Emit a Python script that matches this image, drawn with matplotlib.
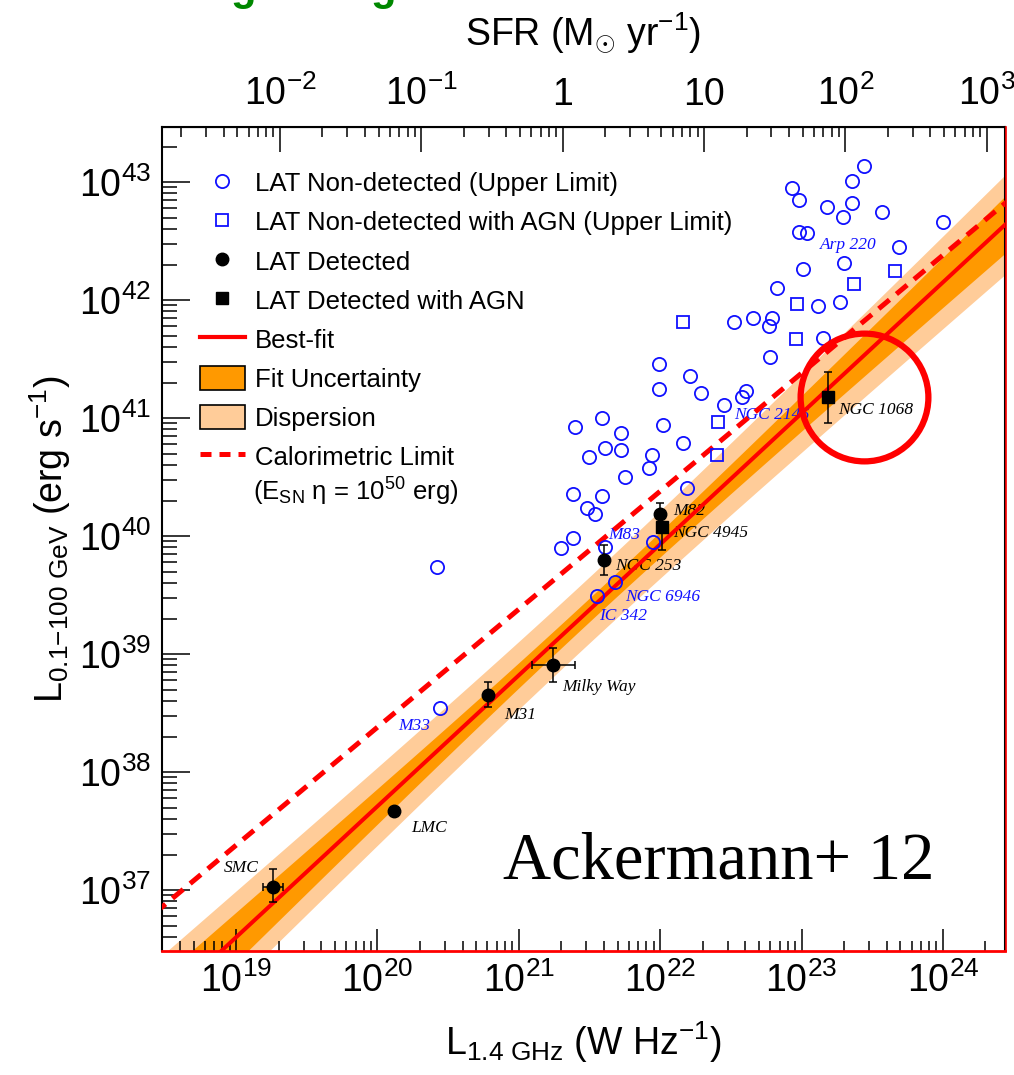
import numpy as np
import matplotlib.pyplot as plt
from matplotlib.lines import Line2D
from matplotlib.patches import Patch
from matplotlib.ticker import LogLocator, FuncFormatter, NullFormatter

plt.rcParams['font.family'] = ['Liberation Sans', 'DejaVu Sans']
plt.rcParams['mathtext.fontset'] = 'custom'
plt.rcParams['mathtext.rm'] = 'Liberation Sans'
plt.rcParams['mathtext.it'] = 'Liberation Sans:italic'
plt.rcParams['mathtext.bf'] = 'Liberation Sans:bold'
plt.rcParams['mathtext.default'] = 'rm'

# all values are log10: L_1.4GHz in W/Hz, L_0.1-100GeV in erg/s
# LAT non-detected (upper limits)
nd_lx = [23.44, 23.36, 22.93, 22.98, 23.18, 23.36, 23.29, 23.57, 24.00, 22.98,
         23.04, 23.69, 23.01, 23.30, 22.83, 23.12, 23.27, 22.52, 22.66, 22.79,
         22.77, 23.15, 22.78, 21.99, 22.21, 21.99, 22.29, 22.61, 22.58, 22.45,
         21.59, 22.02, 21.72, 21.61, 21.72, 21.50, 21.94, 21.92, 22.16, 21.75,
         22.19, 21.59, 21.40, 21.38, 21.48, 21.54, 21.38, 21.30, 21.61, 21.95,
         21.68, 21.55, 20.42, 20.44]
nd_ly = [43.14, 43.01, 42.95, 42.85, 42.79, 42.82, 42.70, 42.75, 42.66, 42.58,
         42.57, 42.45, 42.26, 42.31, 42.10, 41.95, 41.98, 41.81, 41.85, 41.85,
         41.78, 41.68, 41.52, 41.46, 41.36, 41.25, 41.21, 41.23, 41.18, 41.11,
         41.00, 40.94, 40.87, 40.75, 40.73, 40.67, 40.69, 40.58, 40.79, 40.50,
         40.41, 40.34, 40.92, 40.36, 40.24, 40.19, 39.98, 39.90, 39.91, 39.95,
         39.61, 39.49, 39.74, 38.54]
# LAT non-detected with AGN
agn_lx = [22.16, 23.37, 23.66, 22.97, 22.96, 22.41, 22.40]
agn_ly = [41.81, 42.14, 42.25, 41.97, 41.67, 40.97, 40.69]
# LAT detected
det_lx = [19.26, 20.12, 20.78, 21.24, 21.60, 22.00]
det_ly = [37.03, 37.67, 38.65, 38.91, 39.80, 40.19]
det_ylo = [0.13, 0.0, 0.10, 0.15, 0.13, 0.11]
det_yhi = [0.15, 0.0, 0.11, 0.14, 0.12, 0.09]
det_xlo = [0.07, 0.0, 0.0, 0.15, 0.0, 0.0]
det_xhi = [0.07, 0.0, 0.0, 0.16, 0.0, 0.0]
# LAT detected with AGN (NGC 4945, NGC 1068)
dagn_lx = [22.01, 23.19]
dagn_ly = [40.08, 41.18]
dagn_ylo = [0.20, 0.22]
dagn_yhi = [0.10, 0.21]

# galaxy names
black_names = ['SMC', 'LMC', 'M31', 'Milky Way', 'NGC 253', 'M82', 'NGC 4945', 'NGC 1068']
black_tx = [18.91, 20.24, 20.90, 21.31, 21.68, 22.09, 22.09, 23.26]
black_ty = [37.19, 37.53, 38.48, 38.72, 39.75, 40.21, 40.03, 41.07]
blue_names = ['M33', 'IC 342', 'NGC 6946', 'M83', 'NGC 2146', 'Arp 220']
blue_tx = [20.15, 21.57, 21.75, 21.63, 22.52, 23.13]
blue_ty = [38.39, 39.32, 39.48, 40.01, 41.03, 42.47]

# best fit: log L = beta + alpha log(L1.4/1e21)
alpha, beta = 1.11, 38.82
calor_offset = 18.38  # calorimetric limit, log Lg = log L1.4 + offset
sfr_offset = 21.31    # SFR = L1.4 / 10^21.31

BLUE = '#1010ff'
DARK = '#ff9900'
LIGHT = '#ffcc99'

fig = plt.figure(figsize=(10.14, 10.75), dpi=100)
ax = fig.add_axes([0.1598, 0.1153, 0.8314, 0.7665])
ax.set_xscale('log')
ax.set_yscale('log')
ax.set_xlim(10**18.476, 10**24.44)
ax.set_ylim(10**36.483, 10**43.466)

lx = np.linspace(18.3, 24.6, 300)
fit = beta + alpha*(lx - 21)
unc = np.sqrt(0.1**2 + (0.075*(lx - 21.5))**2)
disp = unc + 0.18
ax.fill_between(10**lx, 10**(fit - disp), 10**(fit + disp), color=LIGHT, lw=0, zorder=1)
ax.fill_between(10**lx, 10**(fit - unc), 10**(fit + unc), color=DARK, lw=0, zorder=1.5)
ax.plot(10**lx, 10**fit, color='red', lw=2.9, zorder=3)
ax.plot(10**lx, 10**(lx + calor_offset), color='red', lw=3.6, dashes=(2.8, 1.8), zorder=3)

ax.plot(10**np.array(nd_lx), 10**np.array(nd_ly), 'o', ls='none', mfc='none', mec=BLUE,
        ms=9.5, mew=1.3, zorder=5)
ax.plot(10**np.array(agn_lx), 10**np.array(agn_ly), 's', ls='none', mfc='none', mec=BLUE,
        ms=9, mew=1.3, zorder=5)

dx = np.array(det_lx); dy = np.array(det_ly)
yerr = [10**dy - 10**(dy - np.array(det_ylo)), 10**(dy + np.array(det_yhi)) - 10**dy]
xerr = [10**dx - 10**(dx - np.array(det_xlo)), 10**(dx + np.array(det_xhi)) - 10**dx]
ax.errorbar(10**dx, 10**dy, xerr=xerr, yerr=yerr, fmt='o', color='black', ms=9,
            elinewidth=1.1, capsize=3, capthick=1.1, zorder=6)
ax2x = np.array(dagn_lx); ax2y = np.array(dagn_ly)
yerr2 = [10**ax2y - 10**(ax2y - np.array(dagn_ylo)), 10**(ax2y + np.array(dagn_yhi)) - 10**ax2y]
ax.errorbar(10**ax2x, 10**ax2y, yerr=yerr2, fmt='s', color='black', ms=8.5,
            elinewidth=1.1, capsize=3, capthick=1.1, zorder=6)

for name, tx, ty in zip(black_names, black_tx, black_ty):
    ax.text(10**tx, 10**ty, name, color='black', fontsize=12.5, style='italic',
            family='Liberation Serif', va='center', ha='left', zorder=2.5)
for name, tx, ty in zip(blue_names, blue_tx, blue_ty):
    ax.text(10**tx, 10**ty, name, color=BLUE, fontsize=12.5, style='italic',
            family='Liberation Serif', va='center', ha='left', zorder=2.5)

# red circle around NGC 1068
ax.plot(10**23.44, 10**41.18, 'o', ms=92, mfc='none', mec='red', mew=4.5, zorder=7)

ax.text(0.4045, 0.0886, 'Ackermann+ 12', transform=ax.transAxes, fontsize=48,
        family='Liberation Serif', va='baseline', ha='left')

# axes styling
for s in ['left', 'top', 'right']:
    ax.spines[s].set_linewidth(1.5)
ax.spines['bottom'].set_color('red')
ax.spines['bottom'].set_linewidth(2)
fig.add_artist(Line2D([0.9925, 0.9925], [0.1153, 0.8819], color='red', lw=1.2))

ax.xaxis.set_major_locator(LogLocator(base=10, numticks=20))
ax.xaxis.set_minor_locator(LogLocator(base=10, subs=np.arange(2, 10), numticks=100))
ax.yaxis.set_major_locator(LogLocator(base=10, numticks=20))
ax.yaxis.set_minor_locator(LogLocator(base=10, subs=np.arange(2, 10), numticks=100))
ax.xaxis.set_major_formatter(FuncFormatter(lambda v, p: r'$10^{%d}$' % round(np.log10(v))))
ax.yaxis.set_major_formatter(FuncFormatter(lambda v, p: r'$10^{%d}$' % round(np.log10(v))))
ax.xaxis.set_minor_formatter(NullFormatter())
ax.yaxis.set_minor_formatter(NullFormatter())
ax.tick_params(which='both', direction='in', top=False, right=False, width=1.1, labelsize=27)
ax.tick_params(axis='y', which='major', length=20, pad=8)
ax.tick_params(axis='y', which='minor', length=11)
ax.tick_params(axis='x', which='major', length=16, pad=8)
ax.tick_params(axis='x', which='minor', length=7)

ax.set_xlabel(r'L$_{1.4\ GHz}$ (W Hz$^{-1}$)', fontsize=27, labelpad=14)
ax.set_ylabel(r'L$_{0.1{-}100\ GeV}$ (erg s$^{-1}$)', fontsize=27, labelpad=4)

def sfr_fmt(v, p):
    e = round(np.log10(v))
    if e == 0:
        return '1'
    if e == 1:
        return '10'
    return r'$10^{%d}$' % e

sec = ax.secondary_xaxis('top', functions=(lambda x: x/10**sfr_offset, lambda s: s*10**sfr_offset))
sec.xaxis.set_major_locator(LogLocator(base=10, numticks=20))
sec.xaxis.set_minor_locator(LogLocator(base=10, subs=np.arange(2, 10), numticks=100))
sec.xaxis.set_major_formatter(FuncFormatter(sfr_fmt))
sec.xaxis.set_minor_formatter(NullFormatter())
sec.tick_params(which='both', direction='in', width=1.1, labelsize=27)
sec.tick_params(which='major', length=18, pad=10)
sec.tick_params(which='minor', length=7)
sec.set_xlabel(r'SFR (M$_{\odot}$ yr$^{-1}$)', fontsize=27, labelpad=22)

handles = [
    Line2D([], [], marker='o', ls='none', mfc='none', mec=BLUE, ms=9.5, mew=1.3),
    Line2D([], [], marker='s', ls='none', mfc='none', mec=BLUE, ms=9, mew=1.3),
    Line2D([], [], marker='o', ls='none', color='black', ms=9),
    Line2D([], [], marker='s', ls='none', color='black', ms=8.5),
    Line2D([], [], color='red', lw=3),
    Patch(fc=DARK, ec='black', lw=1.2),
    Patch(fc=LIGHT, ec='black', lw=1.2),
    Line2D([], [], color='red', lw=3.6, dashes=(2.2, 1.6)),
]
labels = ['LAT Non-detected (Upper Limit)', 'LAT Non-detected with AGN (Upper Limit)',
          'LAT Detected', 'LAT Detected with AGN', 'Best-fit', 'Fit Uncertainty',
          'Dispersion', 'Calorimetric Limit']
ax.legend(handles, labels, loc='upper left', bbox_to_anchor=(0.045, 0.947), frameon=False,
          fontsize=18.5, handlelength=1.75, handleheight=1.05, handletextpad=0.38,
          labelspacing=0.52, borderpad=0, borderaxespad=0)
ax.text(0.108, 0.557, r'(E$_{SN}$ η = 10$^{50}$ erg)', transform=ax.transAxes,
        fontsize=18.5, va='center', ha='left')

# clipped green text at the very top
fig.text(243/1014, 1.0, 'g', color='#008800', fontsize=30, fontweight='bold', ha='center', va='baseline')
fig.text(383/1014, 1.0, 'g', color='#008800', fontsize=30, fontweight='bold', ha='center', va='baseline')

fig.savefig('out.png', dpi=100)
